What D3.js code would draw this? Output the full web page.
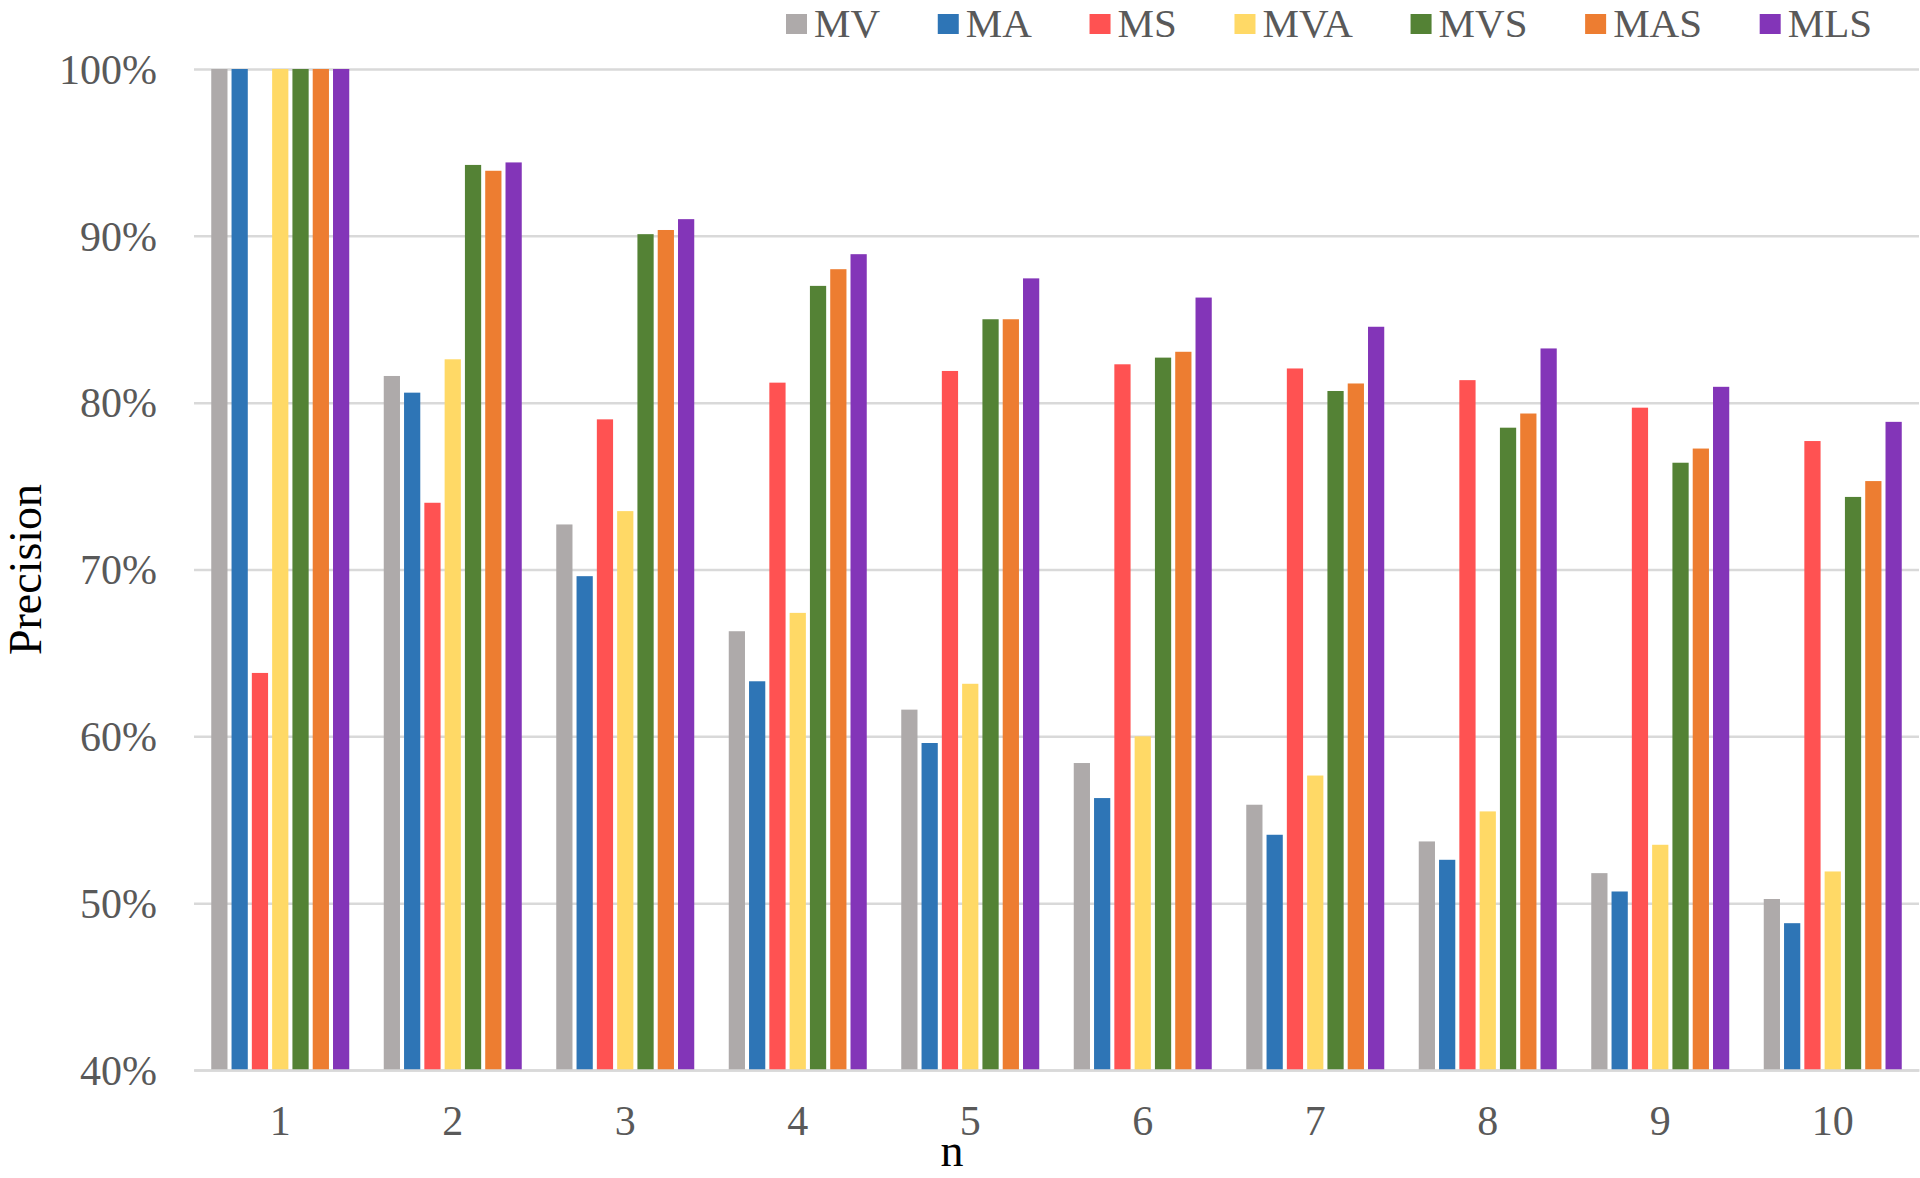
<!DOCTYPE html>
<html>
<head>
<meta charset="utf-8">
<script src="https://cdn.jsdelivr.net/npm/d3@7"></script>
<style>
  html, body { margin: 0; padding: 0; background: #fff; }
  svg { display: block; font-family: "Liberation Serif", "Times New Roman", serif; }
</style>
</head>
<body>
<svg id="chart" width="1920" height="1178"></svg>
<script>
// ---- data ----
const categories = ["1", "2", "3", "4", "5", "6", "7", "8", "9", "10"];
const seriesNames = ["MV", "MA", "MS", "MVA", "MVS", "MAS", "MLS"];
const seriesColors = ["#AEAAAA", "#2E75B6", "#FF5252", "#FFD966", "#548235", "#ED7D31", "#8335B8"];
const MV  = [100, 81.6, 72.7, 66.3, 61.6, 58.4, 55.9, 53.7, 51.8, 50.25];
const MA  = [100, 80.6, 69.6, 63.3, 59.6, 56.3, 54.1, 52.6, 50.7, 48.8];
const MS  = [63.8, 74.0, 79.0, 81.2, 81.9, 82.3, 82.05, 81.35, 79.7, 77.7];
const MVA = [100, 82.6, 73.5, 67.4, 63.15, 60.0, 57.65, 55.5, 53.5, 51.9];
const MVS = [100, 94.25, 90.1, 87.0, 85.0, 82.7, 80.7, 78.5, 76.4, 74.35];
const MAS = [100, 93.9, 90.35, 88.0, 85.0, 83.05, 81.15, 79.35, 77.25, 75.3];
const MLS = [100, 94.4, 91.0, 88.9, 87.45, 86.3, 84.55, 83.25, 80.95, 78.85];
const yTicks = [0.4, 0.5, 0.6, 0.7, 0.8, 0.9, 1.0];
const yTitle = "Precision";
const xTitle = "n";

const seriesValues = [MV, MA, MS, MVA, MVS, MAS, MLS];

// ---- layout ----
const svg = d3.select("#chart");
const plotLeft = 194, plotRight = 1919, plotTop = 69, plotBottom = 1070;

const x0 = d3.scaleBand().domain(categories).range([plotLeft, plotRight]).paddingInner(0).paddingOuter(0);
const x1 = d3.scaleBand().domain(seriesNames).range([0, x0.bandwidth()]).paddingInner(0.2).paddingOuter(0.85);
const y = d3.scaleLinear().domain([0.4, 1.0]).range([plotBottom, plotTop]);

const tickColor = "#595959";
const gridColor = "#D9D9D9";
const fontFam = "Liberation Serif, Times New Roman, serif";

// gridlines + y labels
const yAxis = svg.append("g")
  .attr("transform", `translate(${plotLeft},0)`)
  .call(d3.axisLeft(y).tickValues(yTicks).tickFormat(d3.format(".0%"))
        .tickSize(-(plotRight - plotLeft)).tickPadding(37));
yAxis.select(".domain").remove();
yAxis.selectAll(".tick line").attr("stroke", gridColor).attr("stroke-width", 2.5);
yAxis.selectAll(".tick text")
  .attr("fill", tickColor).attr("font-size", 42)
  .attr("font-family", fontFam)
  .attr("dy", "0.34em");

// bars
const rows = categories.map((c, i) => ({ cat: c, vals: seriesNames.map((s, j) => ({ s, v: seriesValues[j][i] / 100, color: seriesColors[j] })) }));
const groups = svg.append("g").selectAll("g").data(rows).join("g")
  .attr("transform", d => `translate(${x0(d.cat)},0)`);
groups.selectAll("rect").data(d => d.vals).join("rect")
  .attr("x", d => x1(d.s))
  .attr("width", x1.bandwidth())
  .attr("y", d => y(d.v))
  .attr("height", d => y(0.4) - y(d.v))
  .attr("fill", d => d.color);

// x axis
const xAxis = svg.append("g")
  .attr("transform", `translate(0,${plotBottom})`)
  .call(d3.axisBottom(x0).tickSize(0).tickPadding(35));
xAxis.select(".domain").attr("stroke", gridColor).attr("stroke-width", 2.5);
xAxis.selectAll(".tick text")
  .attr("fill", tickColor).attr("font-size", 42)
  .attr("font-family", fontFam);

// axis titles
svg.append("text")
  .attr("transform", `translate(41,${(plotTop + plotBottom) / 2}) rotate(-90)`)
  .attr("text-anchor", "middle")
  .attr("font-size", 46)
  .attr("font-family", fontFam)
  .attr("fill", "#000")
  .text(yTitle);

svg.append("text")
  .attr("x", 952).attr("y", 1166)
  .attr("text-anchor", "middle")
  .attr("font-size", 46)
  .attr("font-family", fontFam)
  .attr("fill", "#000")
  .text(xTitle);

// legend: spread items between x=786 and x=1872
const legend = svg.append("g");
const legStart = 786, legEnd = 1872, sw = 21, swGap = 28;
const items = seriesNames.map((name, i) => {
  const t = legend.append("text").attr("y", 37)
    .attr("font-size", 41).attr("font-family", fontFam).attr("fill", tickColor).text(name);
  return { t, w: t.node().getComputedTextLength(), color: seriesColors[i] };
});
const totalW = d3.sum(items, d => d.w) + items.length * swGap;
const itemGap = (legEnd - legStart - totalW) / (items.length - 1);
let lx = legStart;
items.forEach(it => {
  legend.append("rect").attr("x", lx).attr("y", 14).attr("width", sw).attr("height", 20).attr("fill", it.color);
  it.t.attr("x", lx + swGap);
  lx = lx + swGap + it.w + itemGap;
});
</script>
</body>
</html>
